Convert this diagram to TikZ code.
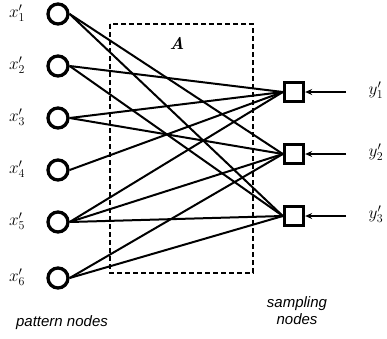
\documentclass[tikz,border=0pt]{standalone}
\usepackage{amsmath}
\usepackage{fontspec}
\setsansfont{Liberation Sans}
\usetikzlibrary{arrows.meta}

\begin{document}
\begin{tikzpicture}[
      x=1pt, y=-1pt,
      pattern node/.style={circle, draw, fill=white, line width=3.3pt, inner sep=0pt, minimum size=20pt},
      sampling node/.style={rectangle, draw, fill=white, line width=3.3pt, inner sep=0pt, minimum size=19pt},
      edge/.style={line width=2pt},
      input edge/.style={line width=2pt, -{Stealth[length=7pt, width=6pt]}},
      matrix box/.style={line width=2pt, dash pattern=on 5pt off 3pt},
      var label/.style={font=\fontsize{18}{20}\selectfont},
      caption/.style={font=\sffamily\itshape\fontsize{15}{17}\selectfont, align=center}
    ]
    \useasboundingbox (0,0) rectangle (387,338);
    % the region A
    \draw[matrix box] (110,24) rectangle (253,273);
    \node[font=\fontsize{17}{20}\selectfont] (A) at (177,43) {\textbf{\textit{A}}};
    % pattern nodes
    \foreach \i/\y in {1/14, 2/66, 3/118, 4/170, 5/222, 6/278} {
      \node[pattern node] (x\i) at (58,\y) {};
      \node[var label] (lx\i) at (17,\y-1) {$x'_{\i}$};
    }
    % sampling nodes
    \foreach \i/\y in {1/92, 2/154, 3/216} {
      \node[sampling node] (y\i) at (294,\y) {};
      \coordinate (in\i) at (346,\y);
      \node[var label] (ly\i) at (376,\y-2) {$y'_{\i}$};
    }
    \foreach \a/\b in {x2/y1, x3/y1, x4/y1, x5/y1, x1/y2, x3/y2, x5/y2, x6/y2,
                       x1/y3, x2/y3, x5/y3, x6/y3} {
      \draw[edge] (\a.east) -- (\b.west);
    }
    \foreach \i in {1,2,3} {
      \draw[input edge] (in\i) -- (y\i.east);
    }
    \node[caption] (cx) at (62,323) {pattern nodes};
    \node[caption] (cy) at (297,311) {sampling\\nodes};
    \end{tikzpicture}
\end{document}
